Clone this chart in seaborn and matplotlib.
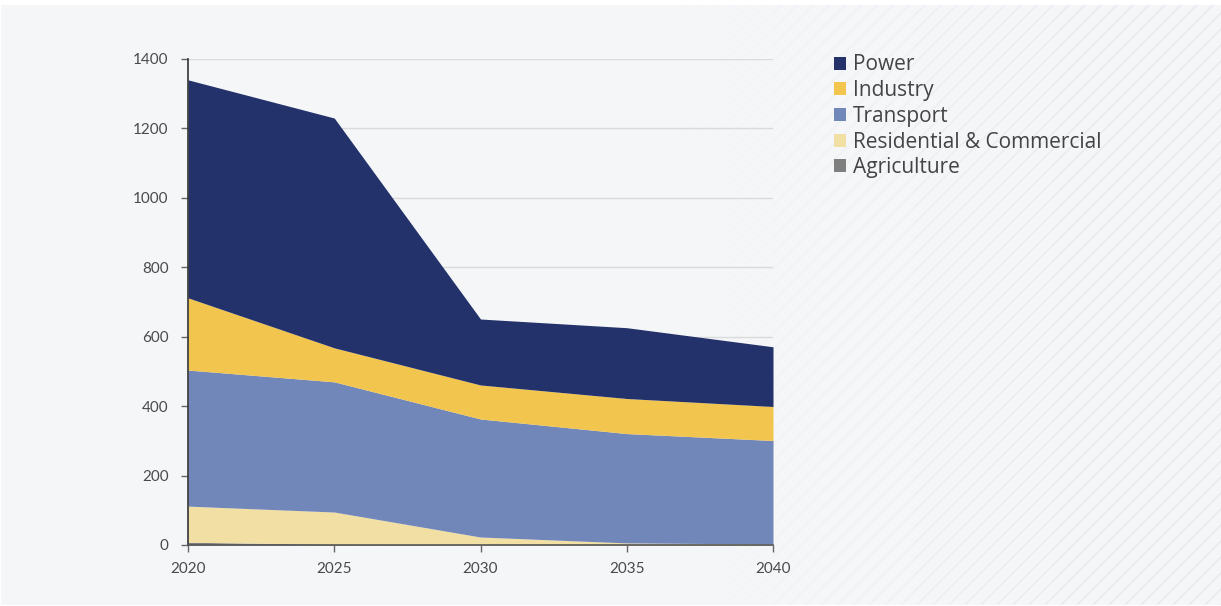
import numpy as np
import matplotlib
matplotlib.use("Agg")
import matplotlib.pyplot as plt
from matplotlib.patches import Patch
import seaborn as sns

# Emissions by sector (stacked), 2020-2040
years = [2020, 2025, 2030, 2035, 2040]
agriculture = [8, 2, 1, 1, 1]
residential = [104, 93, 22, 5, 2]
transport = [392, 375, 340, 315, 298]
industry = [208, 98, 98, 101, 98]
power = [628, 662, 190, 204, 172]

sectors = ["Agriculture", "Residential & Commercial", "Transport", "Industry", "Power"]
colors = ["#7f7f7f", "#f2dfa3", "#7287b9", "#f1c54e", "#24326b"]
y_ticks = [0, 200, 400, 600, 800, 1000, 1200, 1400]

sns.set_theme(style="white")
plt.rcParams["font.family"] = ["Lato", "DejaVu Sans"]
palette = sns.color_palette(colors)

W, H = 1221, 606
fig = plt.figure(figsize=(W / 100, H / 100), dpi=100)
fig.patch.set_facecolor("white")

# background panel with faint diagonal stripes fading in towards the right
bg = fig.add_axes([0, 0, 1, 1], zorder=-10)
bg.set_axis_off()
yy, xx = np.mgrid[0:H, 0:W]
img = np.ones((H, W, 4))
base = np.array([0xf5, 0xf6, 0xf8]) / 255.0
stripe = np.array([0xeb, 0xed, 0xf1]) / 255.0
mask = ((xx + yy) % 16) < 2.2
fade = np.clip((xx - 680) / 420.0, 0, 1)
for c in range(3):
    img[..., c] = base[c] + (stripe[c] - base[c]) * mask * fade
img[..., 3] = 1.0
panel = (xx >= 1) & (yy >= 5) & (yy <= H - 2)
img[~panel, :3] = 1.0
bg.imshow(img, extent=[0, W, H, 0], aspect="auto", interpolation="nearest")
bg.set_xlim(0, W)
bg.set_ylim(H, 0)

ax = fig.add_axes([188 / W, (H - 545) / H, (773 - 188) / W, (545 - 59) / H])
ax.set_facecolor("none")

ax.stackplot(years, agriculture, residential, transport, industry, power,
             colors=palette, linewidth=0, zorder=3)

ax.set_xlim(2020, 2040)
ax.set_ylim(0, 1400)
ax.set_xticks(years)
ax.set_yticks(y_ticks)
ax.yaxis.grid(True, color="#dadada", linewidth=1, zorder=0)
ax.set_axisbelow(True)

for s in ["top", "right"]:
    ax.spines[s].set_visible(False)
ax.spines["left"].set_color("#333333")
ax.spines["left"].set_linewidth(1.2)
ax.spines["bottom"].set_color("#555555")
ax.spines["bottom"].set_linewidth(1.2)
ax.spines["left"].set_zorder(5)
ax.spines["bottom"].set_zorder(5)

ax.tick_params(axis="both", which="major", length=5, width=1, color="#666666",
               labelcolor="#4a4a4a", labelsize=11)
ax.tick_params(axis="y", pad=9)
ax.tick_params(axis="x", pad=7)
ax.tick_params(bottom=True, left=True)

handles = [Patch(facecolor=palette[i], edgecolor="none", label=sectors[i])
           for i in range(len(sectors) - 1, -1, -1)]
fig.legend(handles=handles, loc="upper left", bbox_to_anchor=(834 / W, 1 - 54.5 / H),
           frameon=False, handlelength=0.58, handleheight=0.58,
           handletextpad=0.33, labelspacing=0.225, labelcolor="#444444",
           borderaxespad=0, borderpad=0,
           prop={"family": ["Open Sans", "DejaVu Sans"], "size": 15})

fig.savefig("out.png", dpi=100, facecolor=fig.get_facecolor())
